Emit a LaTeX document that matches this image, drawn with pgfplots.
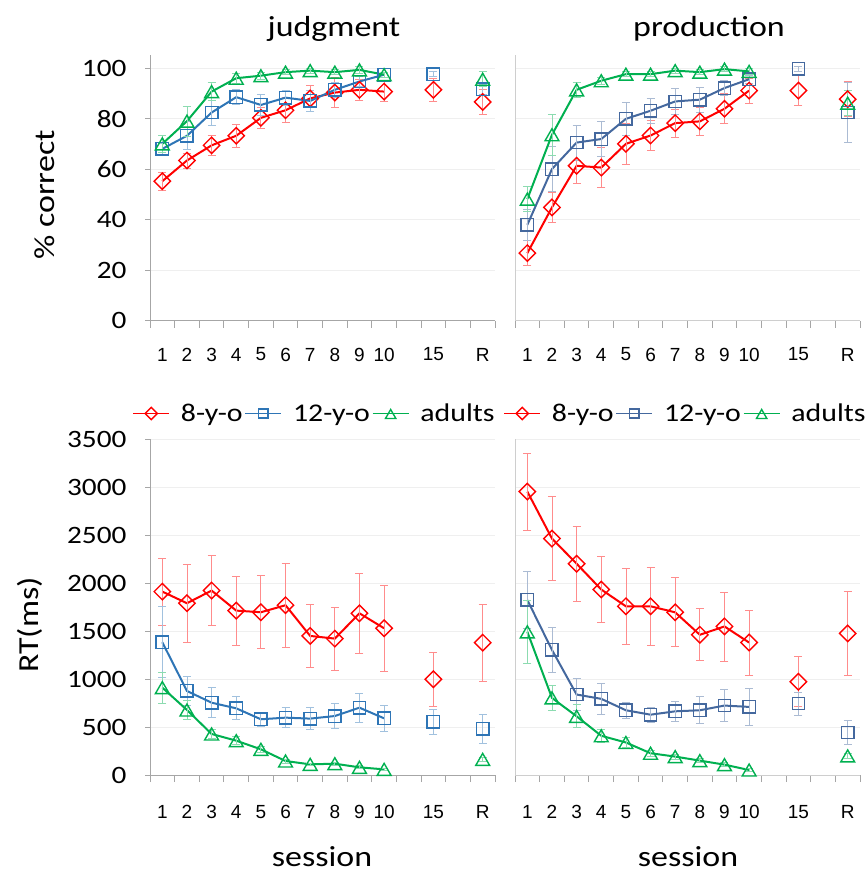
\documentclass[border=0pt]{standalone}
\usepackage{fontspec}
\setmainfont{Carlito}[FakeStretch=1.17]
\newfontfamily\arialfont{Liberation Sans}
\usepackage{pgfplots}
\pgfplotsset{compat=1.18}

\definecolor{cred}{HTML}{FF0000}
\definecolor{cblueA}{HTML}{2E75B6}
\definecolor{cblueB}{HTML}{44689E}
\definecolor{cgreen}{HTML}{00B050}
\definecolor{cgrid}{HTML}{EFEFEF}
\definecolor{caxis}{HTML}{A6A6A6}

\pgfplotsset{
  base/.style={scale only axis, width=345pt, xmin=0.5, xmax=14.5,
    axis lines=left, axis line style={-, draw=caxis, line width=0.9pt},
    xtick={1,2,3,4,5,6,7,8,9,10,12,14},
    xticklabels={1,2,3,4,5,6,7,8,9,10,15,R},
    minor xtick={0.5,1.5,...,14.5},
    major tick length=5pt, minor tick length=7pt, tick align=outside,
    major x tick style={draw=none},
    minor x tick style={draw=caxis, line width=0.9pt},
    ymajorgrids, grid style={draw=cgrid, line width=0.8pt},
    major y tick style={draw=caxis, line width=0.9pt},
    yticklabel style={font=\fontsize{25}{25}\selectfont, xshift=-15pt},
    xticklabel style={font=\arialfont\fontsize{19}{19}\selectfont, anchor=center},
    /pgf/number format/assume math mode=true,
    /pgf/number format/1000 sep={},
    scaled y ticks=false, clip=false, unbounded coords=jump},
  top/.style={base, height=265pt, ymin=0, ymax=105, ytick={0,20,...,100},
    xticklabel style={yshift=-29pt}},
  bot/.style={base, height=335.7pt, ymin=0, ymax=3500, ytick={0,500,...,3500},
    xticklabel style={yshift=-32pt},
    legend style={at={(0.5,1)}, anchor=south, yshift=12pt, draw=none, fill=none,
      legend columns=-1, font=\fontsize{25.5}{25.5}\selectfont,
      nodes={inner xsep=2pt},
      /tikz/every even column/.append style={column sep=0pt},
      /tikz/every odd column/.append style={column sep=9pt}},
    legend image code/.code={%
      \draw[mark=none, line width=1.5pt] (0pt,0pt) -- (36pt,0pt);
      \draw[line width=1.5pt] plot coordinates {(18pt,0pt)};},
    legend image post style={every mark/.append style={scale=0.75}}},
  right/.style={yticklabels={}, major y tick style={draw=none},
    axis line style={draw=caxis!55}},
  errs/.style={error bars/.cd, y dir=both, y explicit,
    error bar style={draw=#1!45, line width=0.8pt},
    error mark options={rotate=90, mark size=4pt, draw=#1!45, line width=0.8pt}},
  s8/.style={draw=cred, line width=2pt, mark=square, mark size=5.8pt,
    mark options={rotate=45, fill=white, draw=cred, line width=1.4pt, solid},
    errs=cred},
  s12/.style={draw=#1, line width=2pt, mark=square, mark size=6.2pt,
    mark options={fill=white, draw=#1, line width=1.4pt, solid},
    errs=#1},
  sad/.style={draw=cgreen, line width=2pt, mark=triangle, mark size=8pt,
    mark options={fill=white, draw=cgreen, line width=1.4pt, solid, yshift=-2pt},
    errs=cgreen},
}

\begin{document}
\begin{tikzpicture}
\useasboundingbox (0,0) rectangle (867pt,-874pt);

% ---- judgment, % correct
\begin{axis}[top, at={(150pt,-320.5pt)}, anchor=south west]
\addplot[s8] coordinates {
 (1,55.2) +- (0,3.5) (2,63.4) +- (0,3) (3,69.4) +- (0,4) (4,73.2) +- (0,4.5)
 (5,80.3) +- (0,4) (6,83.3) +- (0,5) (7,88) +- (0,5) (8,90.3) +- (0,6)
 (9,91.4) +- (0,4) (10,90.7) +- (0,4) (11,nan) +- (0,0) (12,91.4) +- (0,4.5)
 (13,nan) +- (0,0) (14,86.6) +- (0,5)};
\addplot[s12=cblueA] coordinates {
 (1,68) +- (0,2) (2,73.2) +- (0,5.5) (3,82.4) +- (0,5) (4,88.5) +- (0,3)
 (5,85.4) +- (0,4) (6,88.3) +- (0,3) (7,87) +- (0,4) (8,91.4) +- (0,3)
 (9,94.7) +- (0,2) (10,97.4) +- (0,1) (11,nan) +- (0,0) (12,97.6) +- (0,1)
 (13,nan) +- (0,0) (14,91.7) +- (0,2)};
\addplot[sad] coordinates {
 (1,70) +- (0,3.5) (2,79) +- (0,6) (3,90.7) +- (0,3.5) (4,96) +- (0,2)
 (5,97) +- (0,1.5) (6,98.4) +- (0,1) (7,99) +- (0,1) (8,98.4) +- (0,1)
 (9,99.3) +- (0,1.5) (10,97.4) +- (0,1) (11,nan) +- (0,0)
 (14,95.6) +- (0,3)};
\end{axis}

% ---- production, % correct
\begin{axis}[top, right, at={(515pt,-320.5pt)}, anchor=south west]
\addplot[s8] coordinates {
 (1,26.7) +- (0,5) (2,44.8) +- (0,6) (3,61.3) +- (0,7) (4,60.6) +- (0,8)
 (5,70) +- (0,8) (6,73.3) +- (0,6) (7,78.2) +- (0,5.5) (8,78.9) +- (0,5.5)
 (9,83.9) +- (0,6) (10,91.1) +- (0,5) (11,nan) +- (0,0) (12,91.1) +- (0,6)
 (13,nan) +- (0,0) (14,87.7) +- (0,7)};
\addplot[s12=cblueB] coordinates {
 (1,37.9) +- (0,6) (2,60) +- (0,9) (3,70.5) +- (0,7) (4,71.9) +- (0,7)
 (5,79.9) +- (0,6.5) (6,83.1) +- (0,5) (7,86.8) +- (0,5) (8,87.5) +- (0,5)
 (9,92.1) +- (0,3) (10,95.6) +- (0,1.5) (11,nan) +- (0,0) (12,99.7) +- (0,1)
 (13,nan) +- (0,0) (14,82.4) +- (0,12)};
\addplot[sad] coordinates {
 (1,48.1) +- (0,5) (2,73.6) +- (0,8) (3,91.4) +- (0,3) (4,95) +- (0,1.5)
 (5,97.6) +- (0,1) (6,97.6) +- (0,1) (7,99) +- (0,1) (8,98.4) +- (0,1)
 (9,99.6) +- (0,1) (10,98.7) +- (0,1) (11,nan) +- (0,0)
 (14,86.1) +- (0,5)};
\end{axis}

% ---- judgment, RT
\begin{axis}[bot, at={(150pt,-775pt)}, anchor=south west,
  legend style={xshift=-8pt}]
\addplot[s8] coordinates {
 (1,1912) +- (0,350) (2,1791) +- (0,405) (3,1923) +- (0,365) (4,1714) +- (0,360)
 (5,1697) +- (0,380) (6,1770) +- (0,440) (7,1450) +- (0,330) (8,1422) +- (0,330)
 (9,1686) +- (0,420) (10,1530) +- (0,445) (11,nan) +- (0,0) (12,998) +- (0,280)
 (13,nan) +- (0,0) (14,1380) +- (0,400)};
\addplot[s12=cblueA] coordinates {
 (1,1384) +- (0,370) (2,876) +- (0,155) (3,754) +- (0,155) (4,695) +- (0,120)
 (5,581) +- (0,70) (6,598) +- (0,105) (7,588) +- (0,115) (8,615) +- (0,130)
 (9,702) +- (0,150) (10,591) +- (0,135) (11,nan) +- (0,0) (12,553) +- (0,130)
 (13,nan) +- (0,0) (14,480) +- (0,150)};
\addplot[sad] coordinates {
 (1,911) +- (0,160) (2,678) +- (0,100) (3,428) +- (0,50) (4,358) +- (0,40)
 (5,268) +- (0,30) (6,146) +- (0,20) (7,111) +- (0,15) (8,118) +- (0,15)
 (9,80) +- (0,15) (10,59) +- (0,10) (11,nan) +- (0,0)
 (14,163) +- (0,20)};
\legend{8-y-o,12-y-o,adults}
\end{axis}

% ---- production, RT
\begin{axis}[bot, right, at={(515pt,-775pt)}, anchor=south west,
  legend style={xshift=-2pt}]
\addplot[s8] coordinates {
 (1,2955) +- (0,400) (2,2465) +- (0,440) (3,2203) +- (0,390) (4,1934) +- (0,340)
 (5,1759) +- (0,400) (6,1759) +- (0,410) (7,1696) +- (0,360) (8,1462) +- (0,270)
 (9,1549) +- (0,360) (10,1381) +- (0,340) (11,nan) +- (0,0) (12,972) +- (0,260)
 (13,nan) +- (0,0) (14,1476) +- (0,435)};
\addplot[s12=cblueB] coordinates {
 (1,1825) +- (0,300) (2,1304) +- (0,235) (3,839) +- (0,165) (4,794) +- (0,157)
 (5,675) +- (0,80) (6,629) +- (0,78) (7,664) +- (0,100) (8,675) +- (0,140)
 (9,724) +- (0,168) (10,710) +- (0,190) (11,nan) +- (0,0) (12,745) +- (0,120)
 (13,nan) +- (0,0) (14,444) +- (0,130)};
\addplot[sad] coordinates {
 (1,1493) +- (0,330) (2,804) +- (0,130) (3,612) +- (0,120) (4,409) +- (0,70)
 (5,339) +- (0,50) (6,227) +- (0,30) (7,192) +- (0,25) (8,150) +- (0,20)
 (9,108) +- (0,20) (10,52) +- (0,15) (11,nan) +- (0,0)
 (14,199) +- (0,30)};
\legend{8-y-o,12-y-o,adults}
\end{axis}

% titles and axis labels
\node[font=\fontsize{29}{29}\selectfont, anchor=base] at (334pt,-37pt) {judgment};
\node[font=\fontsize{29}{29}\selectfont, anchor=base] at (709pt,-37pt) {production};
\node[font=\fontsize{29}{29}\selectfont, rotate=90] at (45pt,-195pt) {\% correct};
\node[font=\fontsize{29}{29}\selectfont, rotate=90] at (30pt,-625pt) {RT(ms)};
\node[font=\fontsize{29}{29}\selectfont, anchor=base] at (322pt,-866pt) {session};
\node[font=\fontsize{29}{29}\selectfont, anchor=base] at (688pt,-866pt) {session};
\end{tikzpicture}
\end{document}
